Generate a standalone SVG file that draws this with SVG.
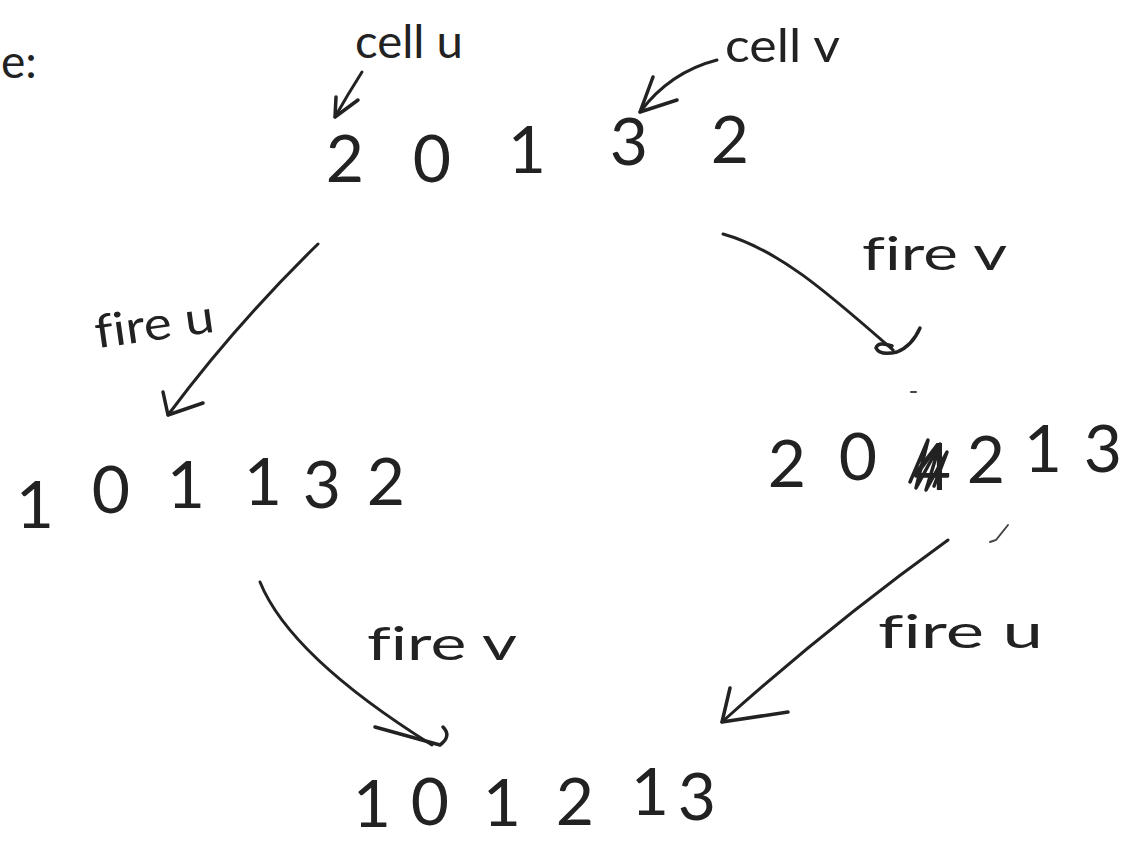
<svg xmlns="http://www.w3.org/2000/svg" width="1130" height="841" viewBox="0 0 1130 841">
  <style>
    .digits { font-family: "Lato", "Liberation Sans", sans-serif; font-weight: 400; font-size: 66px; fill: #222; text-anchor: middle; }
    .lbl { font-family: "Lato", "Liberation Sans", sans-serif; font-weight: 400; font-size: 46px; fill: #222; font-variant-ligatures: none; font-feature-settings: "liga" 0; }
    .conn { fill: none; stroke: #222; stroke-width: 3; stroke-linecap: round; stroke-linejoin: round; }
    .head { fill: none; stroke: #222; stroke-width: 3.5; stroke-linecap: round; stroke-linejoin: round; }
    .mark { fill: none; stroke: #444; stroke-width: 2; stroke-linecap: round; }
  </style>
  <rect width="1130" height="841" fill="#fff"/>

  <g id="intro">
    <text class="lbl" x="1" y="78" font-size="48">e:</text>
  </g>

  <g id="label-cell-u">
    <text class="lbl" x="355" y="58" textLength="108" lengthAdjust="spacingAndGlyphs">cell u</text>
  </g>
  <g id="label-cell-v">
    <text class="lbl" x="725" y="62" textLength="115" lengthAdjust="spacingAndGlyphs">cell v</text>
  </g>

  <g id="state-top">
    <text class="digits" x="345 388 432 480 527 578 629 680 730" y="182 182 182 178 173 169 165 164 163">2 0 1 3 2</text>
  </g>

  <g id="state-left">
    <text class="digits" x="35 73 111 148 186 224 263 292 322 354 386" y="528 520 513 510 508 506 505 506 508 506 505">1 0 1 1 3 2</text>
  </g>

  <g id="state-right">
    <text class="digits" x="787 822 858 895 932 959 986 1014 1043 1073 1103" y="487 484 480 485 490 486 483 478 472 472 472">2 0 4 2 1 3</text>
    <path class="head" d="M910,482 L928,440 L916,488 L940,444 L926,490 L947,452 L934,486" stroke-width="4"/>
  </g>

  <g id="state-bottom">
    <text class="digits" x="372 401 430 466 502 538 575 612 650 673 697" y="827 826 825 825 826 825 825 820 815 817 820">1 0 1 2 1 3</text>
  </g>

  <g id="edge-labels">
    <text class="lbl" x="95" y="340" font-size="50" textLength="120" lengthAdjust="spacingAndGlyphs" transform="rotate(-8 155 330)">fire u</text>
    <text class="lbl" x="862" y="270" font-size="50" textLength="145" lengthAdjust="spacingAndGlyphs">fire v</text>
    <text class="lbl" x="367" y="660" font-size="50" textLength="150" lengthAdjust="spacingAndGlyphs">fire v</text>
    <text class="lbl" x="878" y="648" font-size="50" textLength="165" lengthAdjust="spacingAndGlyphs">fire u</text>
  </g>

  <g id="connectors">
    <path class="conn" d="M362,72 Q348,94 335,117"/>
    <path class="head" d="M336,97 L335,117 L358,100"/>

    <path class="conn" d="M717,60 Q670,72 640,112"/>
    <path class="head" d="M653,77 L640,112 L677,100"/>

    <path class="conn" d="M318,244 Q235,325 168,415"/>
    <path class="head" d="M163,392 L168,415 L203,403"/>

    <path class="conn" d="M723,234 C780,250 830,295 893,350"/>
    <path class="head" d="M920,328 Q912,346 897,352 Q880,356 876,348 Q878,341 892,346"/>

    <path class="conn" d="M260,582 Q290,656 432,745"/>
    <path class="head" d="M375,727 L440,745 Q452,736 443,727"/>

    <path class="conn" d="M948,540 Q830,625 722,722"/>
    <path class="head" d="M730,688 L722,722 L788,712"/>
  </g>

  <g id="marks">
    <path class="mark" d="M911,392 L916,392"/>
    <path class="mark" d="M1008,525 L996,540 L990,542"/>
  </g>
</svg>
